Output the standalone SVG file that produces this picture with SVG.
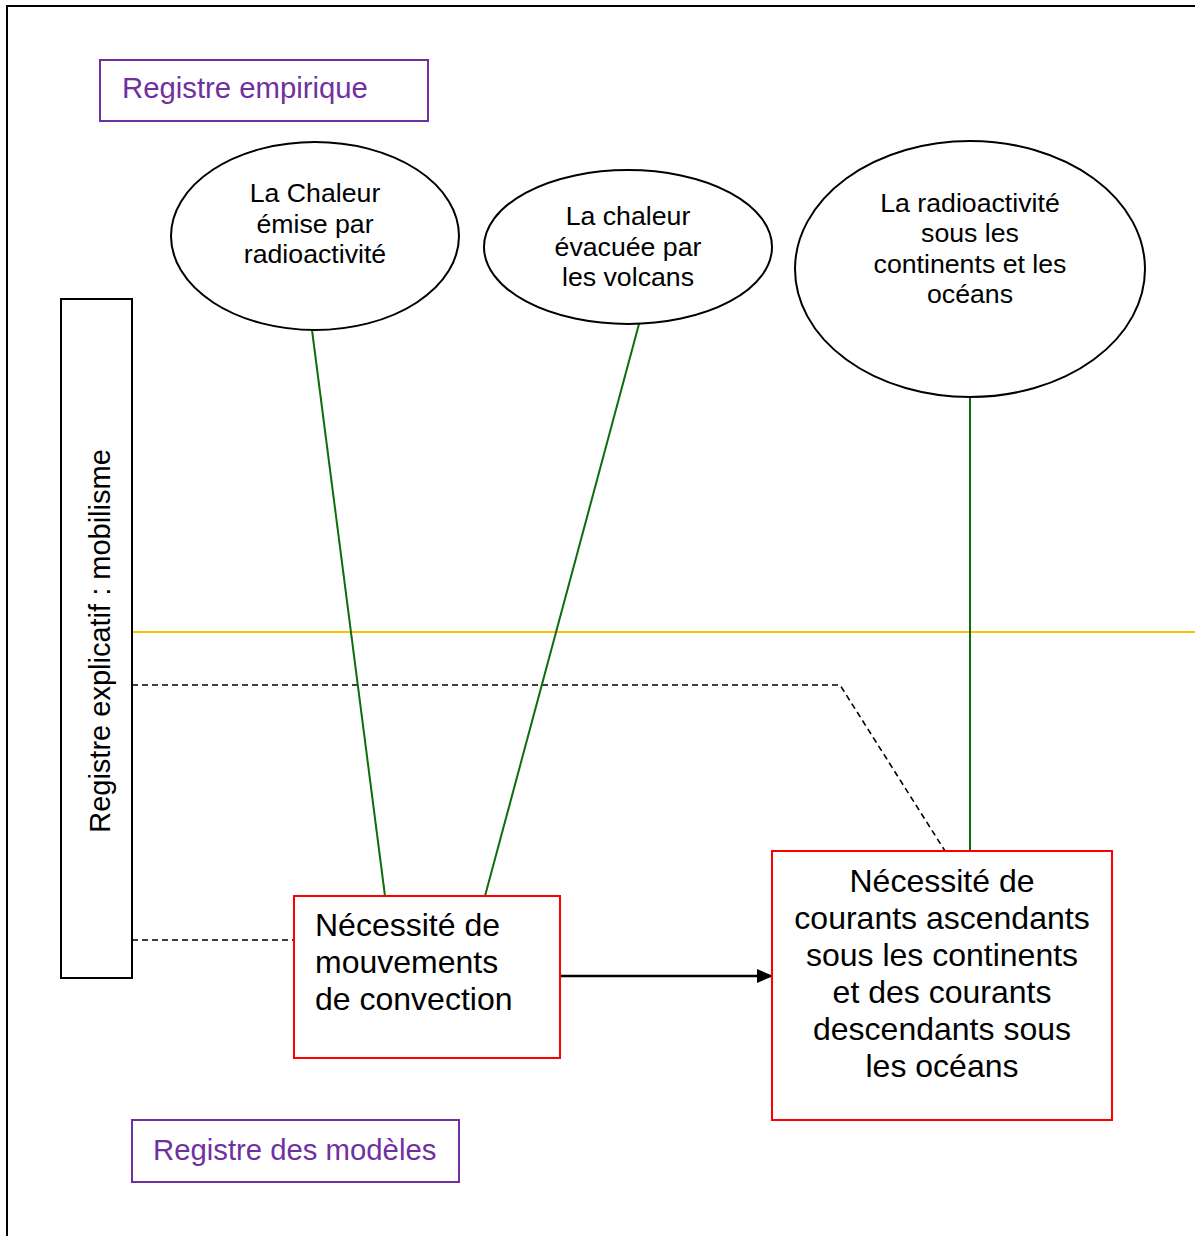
<svg xmlns="http://www.w3.org/2000/svg" width="1195" height="1236" viewBox="0 0 1195 1236">
<style>
text{font-family:"Liberation Sans",Arial,sans-serif;fill:#000}
.purple{fill:none;stroke:#7030A0;stroke-width:2}
.ptxt{fill:#7030A0;font-size:29.3px}
.ell{fill:#fff;stroke:#000;stroke-width:2}
.etxt{font-size:26.7px;text-anchor:middle}
.red{fill:#fff;stroke:#FF0000;stroke-width:2}
.btxt{font-size:32px}
.vtxt{font-size:29px}
.green{stroke:#0B6E0B;stroke-width:2;fill:none}
.dash{stroke:#000;stroke-width:1.6;stroke-dasharray:6 4;fill:none}
</style>
<defs>
<marker id="arrow" markerWidth="16" markerHeight="16" refX="15" refY="8" orient="auto" markerUnits="userSpaceOnUse" viewBox="0 0 16 16">
<path d="M0,1 L16,8 L0,15 z" fill="#000"/>
</marker>
</defs>
<rect width="1195" height="1236" fill="#fff"/>
<path d="M7,1236 V6 H1195" fill="none" stroke="#000" stroke-width="2"/>

<g id="connectors">
<line x1="132" y1="632" x2="1195" y2="632" stroke="#FFC000" stroke-width="2"/>
<polyline class="dash" points="132,685 840,685 945,851"/>
<line class="dash" x1="132" y1="940" x2="294" y2="940"/>
<line class="green" x1="312" y1="330" x2="385" y2="896"/>
<line class="green" x1="639" y1="324" x2="485" y2="896"/>
<line class="green" x1="970" y1="397" x2="970" y2="851"/>
<line x1="560" y1="976" x2="772" y2="976" stroke="#000" stroke-width="2.5" marker-end="url(#arrow)"/>
</g>

<g id="registre-empirique">
<rect class="purple" x="100" y="60" width="328" height="61"/>
<text class="ptxt" x="122" y="98">Registre empirique</text>
</g>

<g id="registre-modeles">
<rect class="purple" x="132" y="1120" width="327" height="62"/>
<text class="ptxt" x="153" y="1160">Registre des modèles</text>
</g>

<g id="registre-explicatif">
<rect x="61" y="299" width="71" height="679" fill="#fff" stroke="#000" stroke-width="2"/>
<text class="vtxt" transform="translate(110,641) rotate(-90)" text-anchor="middle">Registre explicatif : mobilisme</text>
</g>

<g id="chaleur-radioactivite">
<ellipse class="ell" cx="315" cy="236" rx="144" ry="94"/>
<text class="etxt" x="315" y="202">La Chaleur</text>
<text class="etxt" x="315" y="233">émise par</text>
<text class="etxt" x="315" y="263">radioactivité</text>
</g>

<g id="chaleur-volcans">
<ellipse class="ell" cx="628" cy="247" rx="144" ry="77"/>
<text class="etxt" x="628" y="225">La chaleur</text>
<text class="etxt" x="628" y="256">évacuée par</text>
<text class="etxt" x="628" y="286">les volcans</text>
</g>

<g id="radioactivite-continents">
<ellipse class="ell" cx="970" cy="269" rx="175" ry="128"/>
<text class="etxt" x="970" y="212">La radioactivité</text>
<text class="etxt" x="970" y="242">sous les</text>
<text class="etxt" x="970" y="273">continents et les</text>
<text class="etxt" x="970" y="303">océans</text>
</g>

<g id="convection">
<rect class="red" x="294" y="896" width="266" height="162"/>
<text class="btxt" x="315" y="936">Nécessité de</text>
<text class="btxt" x="315" y="973">mouvements</text>
<text class="btxt" x="315" y="1010">de convection</text>
</g>

<g id="courants">
<rect class="red" x="772" y="851" width="340" height="269"/>
<text class="btxt" text-anchor="middle" x="942" y="892">Nécessité de</text>
<text class="btxt" text-anchor="middle" x="942" y="929">courants ascendants</text>
<text class="btxt" text-anchor="middle" x="942" y="966">sous les continents</text>
<text class="btxt" text-anchor="middle" x="942" y="1003">et des courants</text>
<text class="btxt" text-anchor="middle" x="942" y="1040">descendants sous</text>
<text class="btxt" text-anchor="middle" x="942" y="1077">les océans</text>
</g>
</svg>
